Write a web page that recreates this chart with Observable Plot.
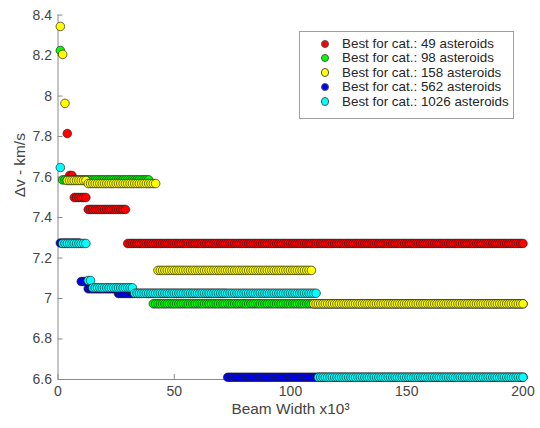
<!DOCTYPE html>
<html><head><meta charset="utf-8">
<script src="https://cdn.jsdelivr.net/npm/d3@7"></script>
<script src="https://cdn.jsdelivr.net/npm/@observablehq/plot@0.6"></script>
<style>
body{margin:0;background:#fff;}
#wrap{position:relative;width:540px;height:428px;}
#legend{position:absolute;left:299px;top:31px;width:215px;height:88px;border:1px solid #a0a0a0;background:#fff;box-sizing:border-box;font-family:"Liberation Sans",Arial,sans-serif;font-size:13.4px;color:#262626;}
.row{position:absolute;left:0;height:14px;line-height:14px;white-space:nowrap;}
.mk{position:absolute;left:20.5px;top:2.5px;width:8.5px;height:8.5px;border-radius:50%;box-sizing:border-box;border:0.5px solid #555;}
.lb{position:absolute;left:42px;top:0;}
</style>
</head><body>
<div id="wrap"><div id="legend"></div></div>
<script>
// Series labels and colours
const categories = ["Best for cat.: 49 asteroids","Best for cat.: 98 asteroids","Best for cat.: 158 asteroids","Best for cat.: 562 asteroids","Best for cat.: 1026 asteroids"];
const colors = ["#ff0000","#00ff00","#ffff00","#0000ff","#00ffff"];
// Runs of constant best Δv: [first beam width, last beam width, Δv]  (beam width in x10^3, step 1)
const red49 = [[4,4,7.815],[5,6,7.608],[7,12,7.499],[13,29,7.44],[30,200,7.272]];
const green98 = [[1,1,8.225],[2,39,7.586],[41,200,6.974]];
const yellow158 = [[1,1,8.344],[2,2,8.206],[3,3,7.964],[4,12,7.583],[13,42,7.568],[43,109,7.139],[110,200,6.974]];
const blue562 = [[1,9,7.274],[10,12,7.084],[13,25,7.048],[26,72,7.025],[73,200,6.611]];
const cyan1026 = [[1,1,7.647],[2,12,7.272],[13,14,7.089],[15,32,7.053],[33,111,7.026],[112,200,6.611]];
// Axes
const xDomain = [0, 200];
const yDomain = [6.6, 8.4];
const xTicks = [0, 50, 100, 150, 200];
const yTicks = [6.6, 6.8, 7, 7.2, 7.4, 7.6, 7.8, 8, 8.2, 8.4];
const xLabel = "Beam Width x10³";
const yLabel = "Δv - km/s";

const seriesRuns = [red49, green98, yellow158, blue562, cyan1026];
const points = [];
seriesRuns.forEach((runs, i) => runs.forEach(([a, b, v]) => {
  for (let x = a; x <= b; x++) points.push({x, dv: v, series: categories[i]});
}));

const W = 540, H = 428, mL = 57.5, mR = 17.5, mT = 14.6, mB = 49;
const plotW = W - mL - mR, plotH = H - mT - mB;
const axisColor = "#454545";

const chart = Plot.plot({
  width: W, height: H,
  marginLeft: mL, marginRight: mR, marginTop: mT, marginBottom: mB,
  x: {domain: xDomain},
  y: {domain: yDomain},
  color: {domain: categories, range: colors},
  style: {fontFamily: "Liberation Sans, Arial, sans-serif", fontSize: "14px", color: axisColor, background: "#fff", overflow: "visible"},
  marks: [
    Plot.ruleX([xDomain[0]], {stroke: "#8a8a8a"}),
    Plot.ruleY([yDomain[0]], {stroke: "#8a8a8a"}),
    Plot.tickX(xTicks, {x: d => d, insetTop: plotH - 5, stroke: "#8a8a8a"}),
    Plot.tickY(yTicks, {y: d => d, insetRight: plotW - 5, stroke: "#8a8a8a"}),
    Plot.dot(points, {x: "x", y: "dv", fill: "series", r: 4.3, stroke: "#1a1a1a", strokeWidth: 0.65}),
    Plot.axisX(xTicks, {tickSize: 0, tickPadding: 7, label: null}),
    Plot.axisY(yTicks, {tickSize: 0, tickPadding: 6, label: null, tickFormat: d => String(+d.toFixed(1))}),
    Plot.text([xLabel], {frameAnchor: "bottom", dy: 34, fontSize: 15.4, fill: axisColor}),
    Plot.text([yLabel], {frameAnchor: "left", dx: -38, rotate: -90, fontSize: 15.4, fill: axisColor})
  ]
});
document.getElementById("wrap").prepend(chart);

const legend = document.getElementById("legend");
categories.forEach((c, i) => {
  const row = document.createElement("div");
  row.className = "row";
  row.style.top = (5 + i * 14.4) + "px";
  row.style.width = "100%";
  const mk = document.createElement("span");
  mk.className = "mk";
  mk.style.background = colors[i];
  const lb = document.createElement("span");
  lb.className = "lb";
  lb.textContent = c;
  row.append(mk, lb);
  legend.append(row);
});
</script>
</body></html>
